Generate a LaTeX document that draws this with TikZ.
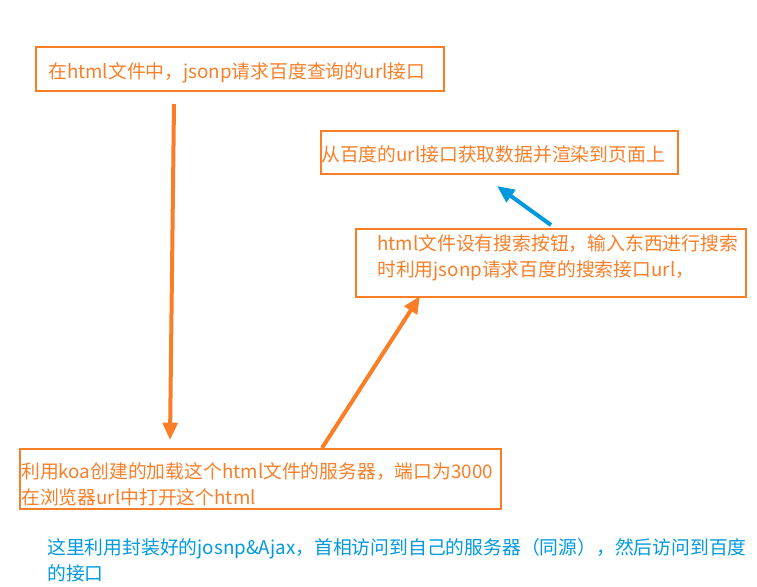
\documentclass[tikz,border=0pt]{standalone}
\usepackage{fontspec}
\setmainfont{Noto Sans CJK SC}
\usetikzlibrary{arrows.meta,positioning}
\definecolor{boxorange}{RGB}{250,126,40}
\definecolor{noteblue}{RGB}{0,153,222}

\begin{document}
\begin{tikzpicture}[x=0.75pt,y=-0.75pt]
    \tikzstyle{box}=[draw=boxorange, line width=1.5pt, anchor=north west, inner sep=0pt]
    \tikzstyle{txt}=[text=boxorange, anchor=west, align=left, inner sep=0pt, font=\fontsize{14.1}{19.5}\selectfont]
    \tikzstyle{flow}=[line width=3pt, -{Triangle[length=13pt,width=11pt]}]
    \useasboundingbox (0,0) rectangle (757,586);
    % boxes
    \node [box, minimum width=306pt, minimum height=33pt] (jsonp) at (35,46) {};
    \node [txt] (jsonp-t) at (48,73) {在html文件中，jsonp请求百度查询的url接口};
    \node [box, minimum width=267.75pt, minimum height=32.25pt] (render) at (320,130) {};
    \node [txt] (render-t) at (321,154) {从百度的url接口获取数据并渲染到页面上};
    \node [box, minimum width=292.5pt, minimum height=51pt] (search) at (355,228) {};
    \node [txt] (search-t) at (377,258) {html文件设有搜索按钮，输入东西进行搜索\\时利用jsonp请求百度的搜索接口url，};
    \node [box, minimum width=360.75pt, minimum height=45pt] (koa) at (19,448) {};
    \node [txt] (koa-t) at (21,484) {利用koa创建的加载这个html文件的服务器，端口为3000\\在浏览器url中打开这个html};
    \node [txt, text=noteblue] (note) at (47,560) {这里利用封装好的josnp\&Ajax，首相访问到自己的服务器（同源），然后访问到百度\\的接口};
    % arrows
    \coordinate (a1) at (174,104);
    \coordinate (b1) at (170,440);
    \coordinate (a2) at (322,448);
    \coordinate (b2) at (420,296);
    \coordinate (a3) at (551,225);
    \coordinate (b3) at (497,186);
    \draw [flow, boxorange] (a1) -- (b1);
    \draw [flow, boxorange] (a2) -- (b2);
    \draw [flow, noteblue] (a3) -- (b3);
\end{tikzpicture}
\end{document}
